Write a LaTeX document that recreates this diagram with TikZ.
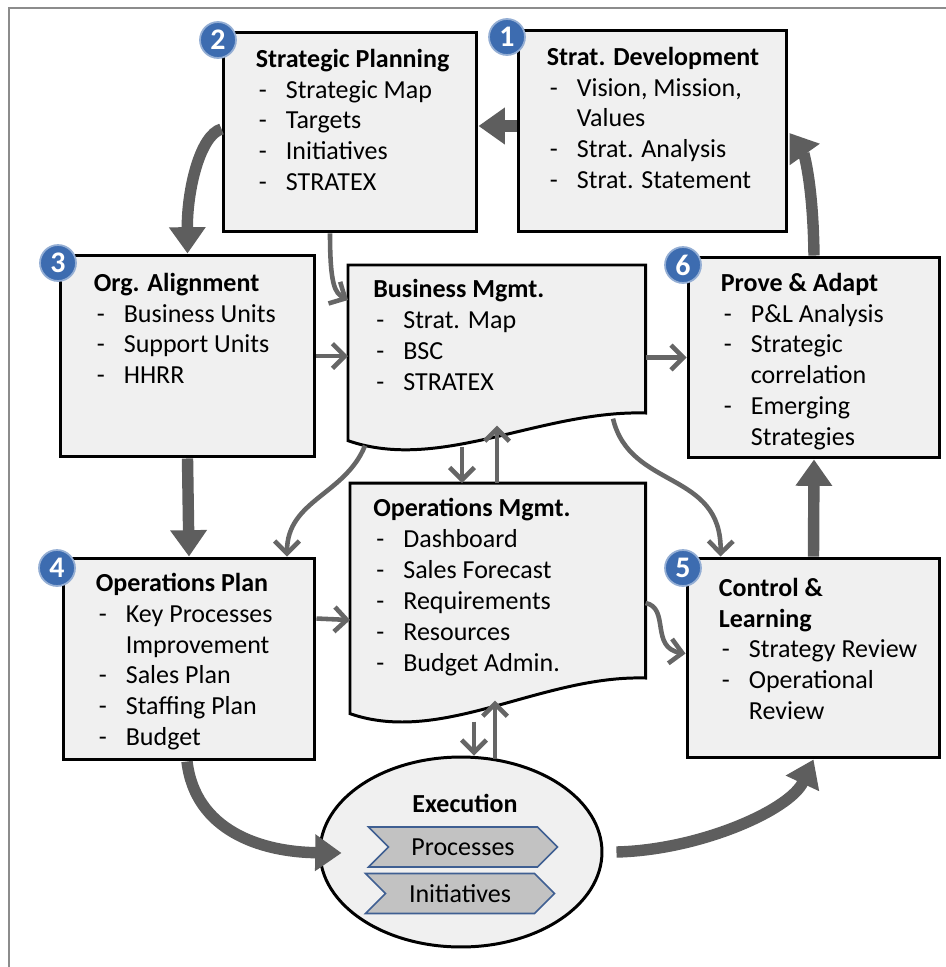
\documentclass[tikz,border=0pt]{standalone}
\usepackage{fontspec}
\setmainfont{Carlito}
\usepackage{xcolor}
\usepackage{tikz}
\usetikzlibrary{shapes,shapes.geometric,shapes.symbols,arrows.meta,positioning,calc}

\definecolor{boxgray}{HTML}{F0F0F0}
\definecolor{arrgray}{HTML}{5E5E5E}
\definecolor{thingray}{HTML}{666666}
\definecolor{chevgray}{HTML}{C2C2C2}
\definecolor{chevblue}{HTML}{3F5F92}
\definecolor{badgeblue}{HTML}{3D6CB0}
\definecolor{framegray}{HTML}{8C8C8C}

\newcommand{\dsh}{\makebox[0.6cm][l]{\hspace{0.06cm}-}}
\newcommand{\cnt}{\hspace*{0.6cm}}

\begin{document}
\begin{tikzpicture}[
            x=0.02cm, y=-0.02cm,
            every node/.style={font=\fontsize{14.8}{17.6}\selectfont},
            bx/.style={draw, line width=1.7pt, fill=boxgray, inner sep=0},
            doc/.style={draw, line width=1.7pt, fill=boxgray},
            txt/.style={anchor=north west, align=left, inner sep=0},
            badge/.style={circle, minimum size=0.72cm, inner sep=0, fill=badgeblue, draw=badgeblue!55!white, line width=1pt, text=white, font=\bfseries\fontsize{17}{17}\selectfont},
            chev/.style={signal, signal from=west, signal to=east, minimum width=3.78cm, minimum height=0.8cm, inner sep=0, fill=chevgray, draw=chevblue, line width=0.9pt},
            big/.style={draw=arrgray, line width=6.5pt, -{Triangle[length=15pt, width=20pt]}},
            thn/.style={draw=thingray, line width=2.6pt, -{Straight Barb[length=7pt, width=14pt]}},
        ]
            \useasboundingbox (0,0) rectangle (946,967);
            \draw[framegray, line width=1.1pt] (946,8) -- (9,8) -- (9,967);

            % boxes
            \node[bx, minimum width=5.08cm, minimum height=4.0cm] (sp) at (350,132) {};
            \node[bx, minimum width=5.38cm, minimum height=4.04cm] (sd) at (652.5,131) {};
            \node[bx, minimum width=5.1cm, minimum height=4.04cm] (oa) at (187.5,356) {};
            \node[bx, minimum width=5.04cm, minimum height=4.02cm] (pa) at (814,357.5) {};
            \node[bx, minimum width=5.04cm, minimum height=4.04cm] (op) at (189,659) {};
            \node[bx, minimum width=5.06cm, minimum height=4.0cm] (cl) at (813.5,658) {};

            % document shapes
            \node[minimum width=5.94cm, minimum height=3.5cm, inner sep=0, anchor=north west] (bm) at (348,265) {};
            \draw[doc] (bm.north west) -- (bm.north east) -- ++(0,148)
                .. controls +(-105,-3) and +(92,32) .. (bm.south west) -- cycle;
            \node[minimum width=5.9cm, minimum height=4.6cm, inner sep=0, anchor=north west] (om) at (350,483) {};
            \draw[doc] (om.north west) -- (om.north east) -- ++(0,195)
                .. controls +(-105,-3) and +(92,32) .. (om.south west) -- cycle;

            % execution
            \node[ellipse, draw, line width=1.7pt, fill=boxgray, minimum width=5.64cm, minimum height=3.8cm] (ex) at (461,852) {};
            \node[font=\bfseries\fontsize{14.8}{17.6}\selectfont] (extx) at (465,803) {Execution};
            \node[chev] (proc) at (463,847) {Processes};
            \node[chev] (init) at (460,893.5) {Initiatives};

            % texts
            \node[txt] (sptx) at ($(sp.north west)+(34,18)$) {\textbf{Strategic Planning}\\ \dsh Strategic Map\\ \dsh Targets\\ \dsh Initiatives\\ \dsh STRATEX};
            \node[txt] (sdtx) at ($(sd.north west)+(30,18)$) {\textbf{Strat. Development}\\ \dsh Vision, Mission,\\ \cnt Values\\ \dsh Strat. Analysis\\ \dsh Strat. Statement};
            \node[txt] (oatx) at ($(oa.north west)+(35,19)$) {\textbf{Org. Alignment}\\ \dsh Business Units\\ \dsh Support Units\\ \dsh HHRR};
            \node[txt] (bmtx) at ($(bm.north west)+(25,14)$) {\textbf{Business Mgmt.}\\ \dsh Strat. Map\\ \dsh BSC\\ \dsh STRATEX};
            \node[txt] (patx) at ($(pa.north west)+(34,17)$) {\textbf{Prove \& Adapt}\\ \dsh P\&L Analysis\\ \dsh Strategic\\ \cnt correlation\\ \dsh Emerging\\ \cnt Strategies};
            \node[txt] (optx) at ($(op.north west)+(34,16)$) {\textbf{Operations Plan}\\ \dsh Key Processes\\ \cnt Improvement\\ \dsh Sales Plan\\ \dsh Staffing Plan\\ \dsh Budget};
            \node[txt] (omtx) at ($(om.north west)+(23,15)$) {\textbf{Operations Mgmt.}\\ \dsh Dashboard\\ \dsh Sales Forecast\\ \dsh Requirements\\ \dsh Resources\\ \dsh Budget Admin.};
            \node[txt] (cltx) at ($(cl.north west)+(33,21)$) {\textbf{Control \&}\\ \textbf{Learning}\\ \dsh Strategy Review\\ \dsh Operational\\ \cnt Review};

            % main cycle
            \draw[big] ($(sd.west)+(0,-5)$) -- ($(sp.east)+(0,-6)$);
            \draw[big] ($(sp.west)+(0,-3)$) .. controls (200,135) and (187,190) .. (oa.north);
            \draw[big] (oa.south) -- (op.north);
            \draw[big] ($(op.south)+(-2,0)$) .. controls (195,830) and (260,852) .. ($(ex.west)+(23,1)$);
            \draw[big] ($(ex.east)+(13,0)$) .. controls (700,850) and (790,810) .. (cl.south);
            \draw[big] (cl.north) -- (pa.south);
            \draw[big] (pa.north) .. controls (813,180) and (803,152) .. ($(sd.east)+(1,2)$);

            % thin links
            \draw[thn] ($(sp.south)+(-20,0)$) .. controls (330,285) and (335,293) .. ($(bm.north west)+(0,35)$);
            \draw[thn] (oa.east) -- (oa.east -| bm.west);
            \draw[thn] (pa.west -| bm.east) -- (pa.west);
            \draw[thn] ($(bm.south west)+(114,6)$) -- ($(om.north west)+(112,0)$);
            \draw[thn] ($(om.north west)+(147,0)$) -- ($(bm.south west)+(149,-15)$);
            \draw[thn] ($(bm.south west)+(17,5)$) .. controls (345,495) and (287,500) .. ($(op.north)+(98,0)$);
            \draw[thn] ($(bm.south west)+(265,-22)$) .. controls (630,490) and (722,470) .. ($(cl.north west)+(35,0)$);
            \draw[thn] ($(op.north east)+(0,62)$) -- ($(om.north west)+(0,137)$);
            \draw[thn] ($(om.north east)+(0,120)$) .. controls (670,608) and (650,648) .. ($(cl.north west)+(0,97)$);
            \draw[thn] ($(om.south west)+(124,8)$) -- ($(ex.north)+(13,0)$);
            \draw[thn] ($(ex.north)+(34,3)$) -- ($(om.south west)+(145,-13)$);

            % badges
            \node[badge] (b1) at (507,37) {1};
            \node[badge] (b2) at (218,40) {2};
            \node[badge] (b3) at (58,263) {3};
            \node[badge] (b4) at (57,568) {4};
            \node[badge] (b5) at (683,568) {5};
            \node[badge] (b6) at (683,265) {6};
        \end{tikzpicture}
\end{document}
